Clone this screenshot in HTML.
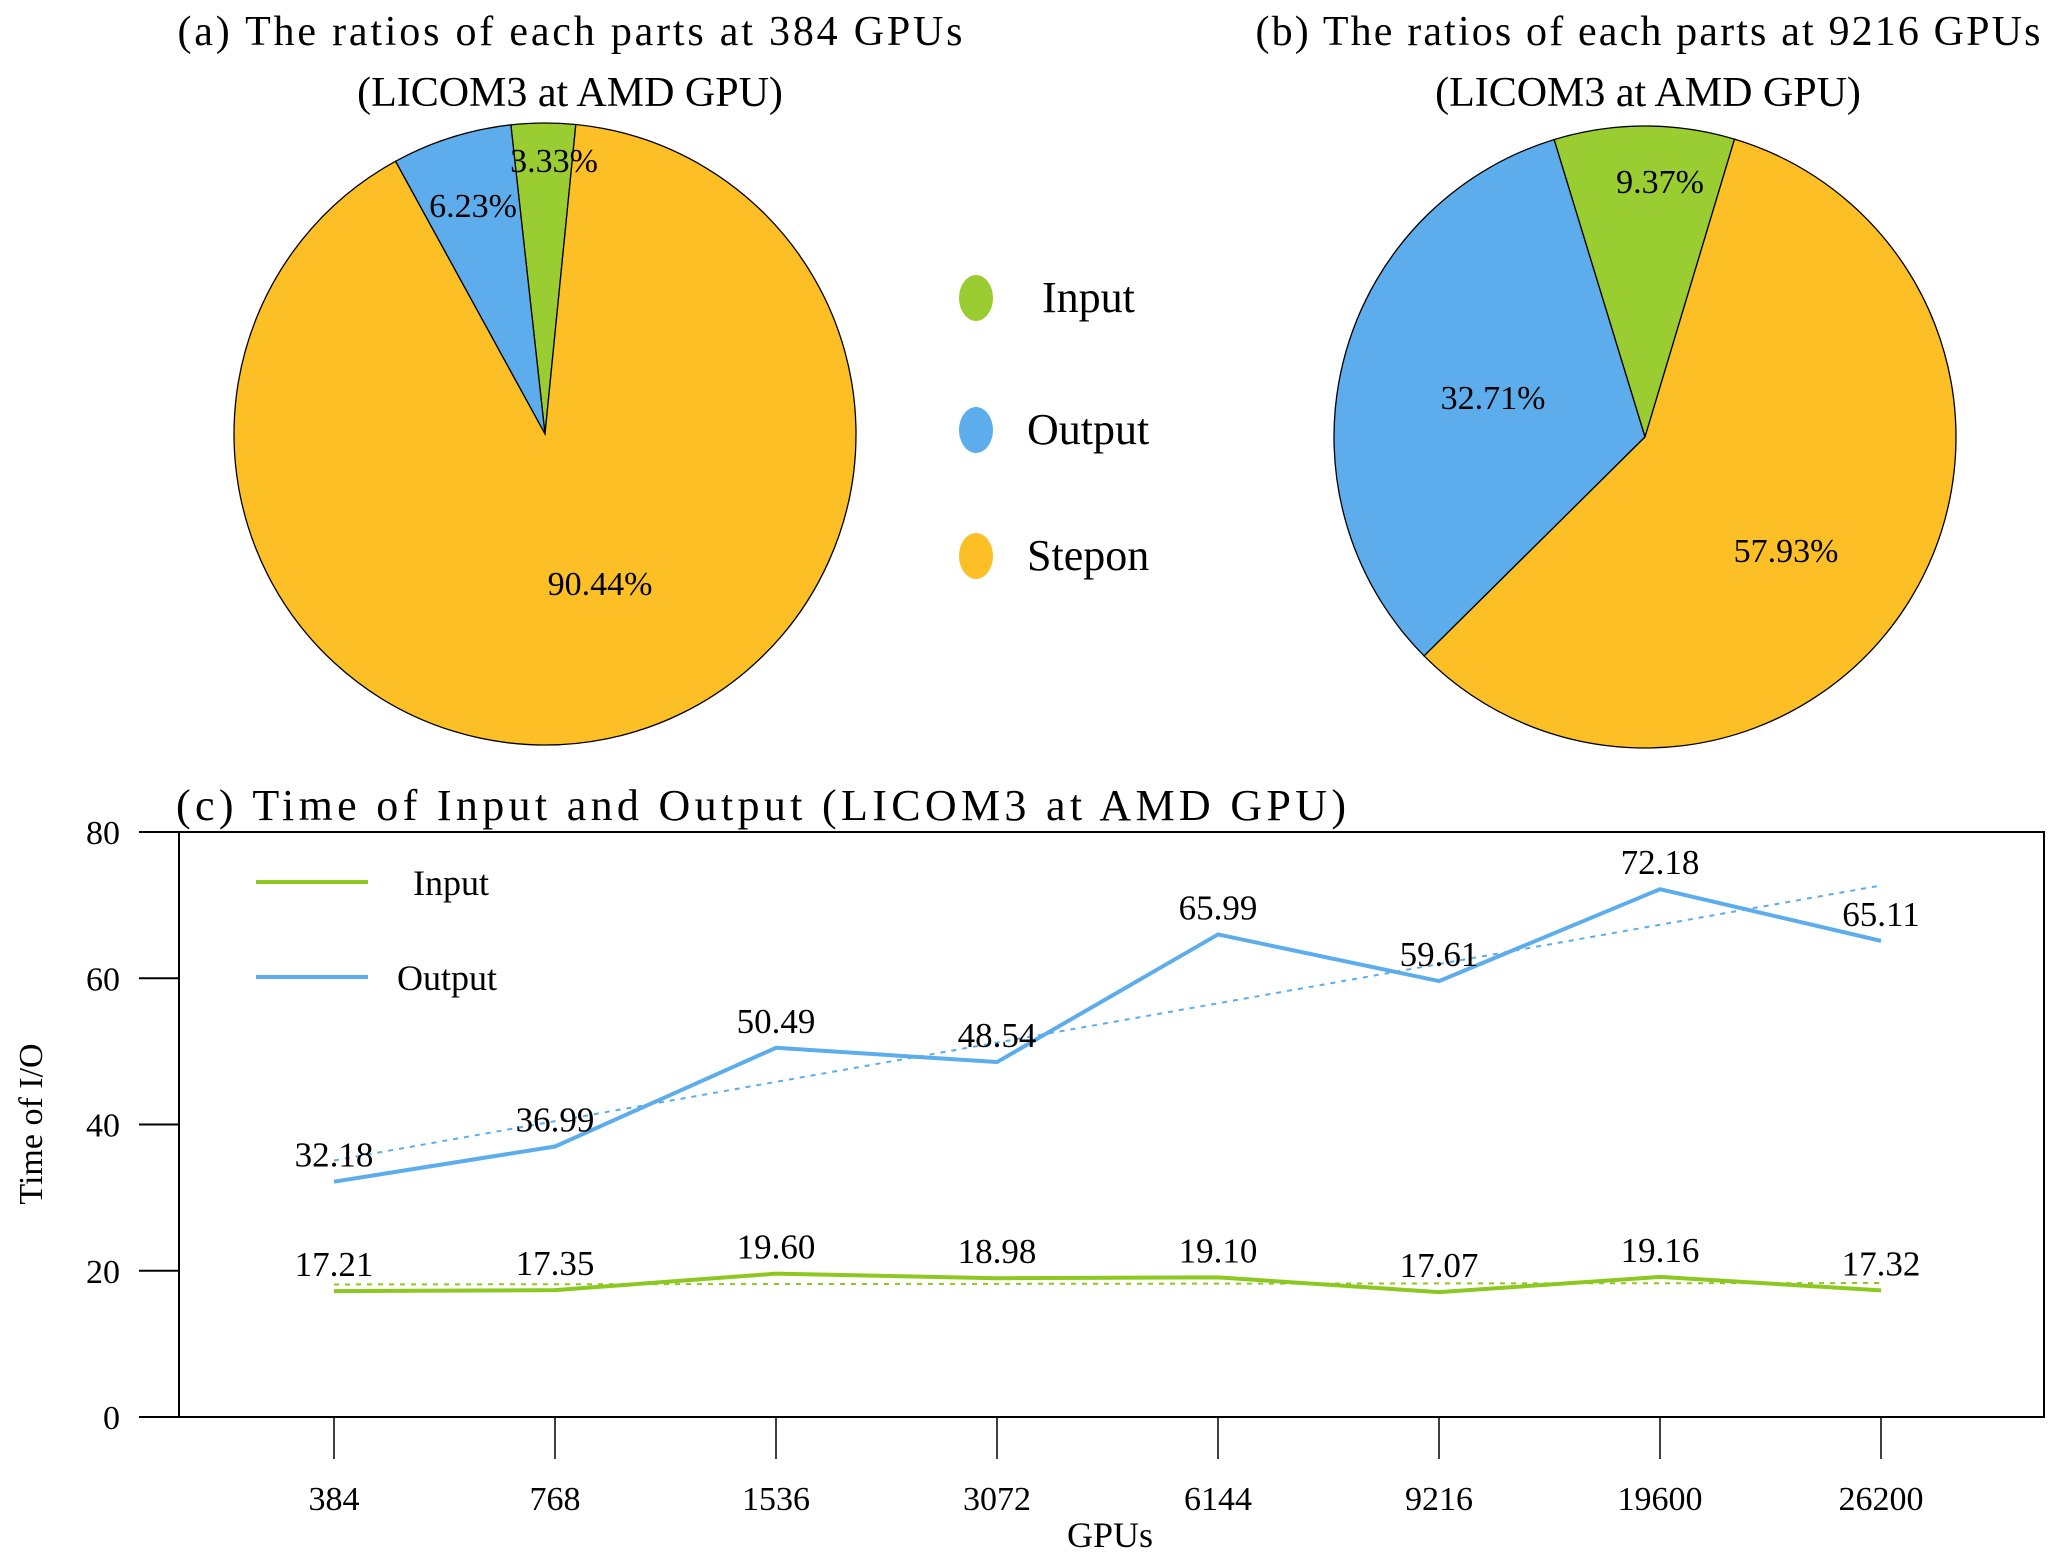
<!DOCTYPE html>
<html><head><meta charset="utf-8"><style>
body{margin:0;background:#fff}
svg{display:block}
svg text{font-family:"Liberation Serif",serif;fill:#000}
</style></head><body>
<svg id="s" width="2067" height="1554" viewBox="0 0 2067 1554" font-family="Liberation Serif, serif">
<text x="570" y="45" font-size="42" text-anchor="middle" textLength="785">(a) The ratios of each parts at 384 GPUs</text>
<text x="570" y="106" font-size="42" text-anchor="middle">(LICOM3 at AMD GPU)</text>
<text x="1648" y="45" font-size="42" text-anchor="middle" textLength="785">(b) The ratios of each parts at 9216 GPUs</text>
<text x="1648" y="106" font-size="42" text-anchor="middle">(LICOM3 at AMD GPU)</text>
<g id="pieA"></g>
<g id="pieB"></g>
<g>
<ellipse cx="976" cy="298" rx="17" ry="23" fill="#9ACD32"/>
<text x="1042" y="312" font-size="44">Input</text>
<ellipse cx="976" cy="430" rx="17" ry="23" fill="#5DADEC"/>
<text x="1027" y="444" font-size="44">Output</text>
<ellipse cx="976" cy="556" rx="17" ry="23" fill="#FDBF26"/>
<text x="1027" y="570" font-size="44">Stepon</text>
</g>
<text x="176" y="820" font-size="44" textLength="1170">(c) Time of Input and Output (LICOM3 at AMD GPU)</text>
<g id="chart"></g>
<text transform="translate(42,1124) rotate(-90)" font-size="34" text-anchor="middle">Time of I/O</text>
<text x="1110" y="1547" font-size="36" text-anchor="middle">GPUs</text>
<g>
<line x1="256" y1="882" x2="368" y2="882" stroke="#8CC820" stroke-width="4"/>
<text x="413" y="895" font-size="36">Input</text>
<line x1="256" y1="977" x2="368" y2="977" stroke="#5DADEC" stroke-width="4"/>
<text x="397" y="990" font-size="36">Output</text>
</g>
</svg>
<script>
const pieALabels=["3.33%","6.23%","90.44%"];
const pieAValues=[3.33,6.23,90.44];
const pieBLabels=["9.37%","32.71%","57.93%"];
const pieBValues=[9.37,32.71,57.93];
const categories=["384","768","1536","3072","6144","9216","19600","26200"];
const inputValues=[17.21,17.35,19.60,18.98,19.10,17.07,19.16,17.32];
const outputValues=[32.18,36.99,50.49,48.54,65.99,59.61,72.18,65.11];
const yTicks=[0,20,40,60,80];

const NS="http://www.w3.org/2000/svg";
function mk(tag,attrs,parent){const e=document.createElementNS(NS,tag);for(const k in attrs)e.setAttribute(k,attrs[k]);parent.appendChild(e);return e;}
const colors=["#9ACD32","#5DADEC","#FDBF26"];
const names=["input","output","stepon"];
function pie(g,cx,cy,r,vals,labels,startDeg,labelPos){
  const tot=vals.reduce((a,b)=>a+b,0);
  const gs=startDeg, ge=gs+vals[0]/tot*360;
  const bs=gs-vals[1]/tot*360, be=gs;
  const ss=ge, se=bs+360;
  const spans=[[gs,ge],[bs,be],[ss,se]];
  const pt=(a)=>[cx+r*Math.sin(a*Math.PI/180),cy-r*Math.cos(a*Math.PI/180)];
  spans.forEach((sp,i)=>{
    const p1=pt(sp[0]),p2=pt(sp[1]);const large=(sp[1]-sp[0])>180?1:0;
    const p=mk('path',{d:`M${cx},${cy}L${p1[0]},${p1[1]}A${r},${r} 0 ${large} 1 ${p2[0]},${p2[1]}Z`,fill:colors[i],stroke:'#000','stroke-width':1.3},g);
    
    
  });
  labels.forEach((lb,i)=>{
    const t=mk('text',{x:labelPos[i][0],y:labelPos[i][1]+12,'font-size':34,'text-anchor':'middle','font-family':'Liberation Serif, serif'},g);
    t.textContent=lb;
    
    
  });
}
pie(document.getElementById('pieA'),545,434,311,pieAValues,pieALabels,-6.3,[[554,160],[473,205],[600,583]]);
pie(document.getElementById('pieB'),1645,437,311,pieBValues,pieBLabels,-17,[[1660,181],[1493,397],[1786,550]]);

const g=document.getElementById('chart');
const X0=334,DX=221,YT=832,YB=1417,YMAX=80;
const xs=i=>X0+i*DX;
const ys=v=>YB-(v/YMAX)*(YB-YT);
let e=mk('rect',{x:179,y:YT,width:1865,height:YB-YT,fill:'none',stroke:'#000','stroke-width':2},g);


yTicks.forEach(v=>{
  const l=mk('line',{x1:139,y1:ys(v),x2:179,y2:ys(v),stroke:'#000','stroke-width':2},g);
  
  
  const t=mk('text',{x:120,y:ys(v)+12,'font-size':34,'text-anchor':'end'},g);
  t.textContent=v;
  
  
});
categories.forEach((c,i)=>{
  const l=mk('line',{x1:xs(i),y1:YB,x2:xs(i),y2:1459,stroke:'#000','stroke-width':1.5},g);
  
  
  const t=mk('text',{x:xs(i),y:1510,'font-size':34,'text-anchor':'middle'},g);
  t.textContent=c;
  
  
});
function series(vals,color,name){
  const n=vals.length,xm=(n-1)/2,ym=vals.reduce((a,b)=>a+b,0)/n;
  let sxy=0,sxx=0;vals.forEach((v,i)=>{sxy+=(i-xm)*(v-ym);sxx+=(i-xm)*(i-xm);});
  const b=sxy/sxx,a=ym-b*xm;
  const tl=mk('line',{x1:xs(0),y1:ys(a),x2:xs(n-1),y2:ys(a+b*(n-1)),stroke:color,'stroke-width':2,'stroke-dasharray':'5,6'},g);
  
  
  const pl=mk('polyline',{points:vals.map((v,i)=>xs(i)+','+ys(v)).join(' '),fill:'none',stroke:color,'stroke-width':4,'stroke-linejoin':'round'},g);
  
  
  vals.forEach((v,i)=>{
    const t=mk('text',{x:xs(i),y:ys(v)-15,'font-size':35,'text-anchor':'middle'},g);
    t.textContent=v.toFixed(2);
    
    
  });
}
series(inputValues,'#8CC820','input');
series(outputValues,'#5DADEC','output');
</script>
</body></html>
